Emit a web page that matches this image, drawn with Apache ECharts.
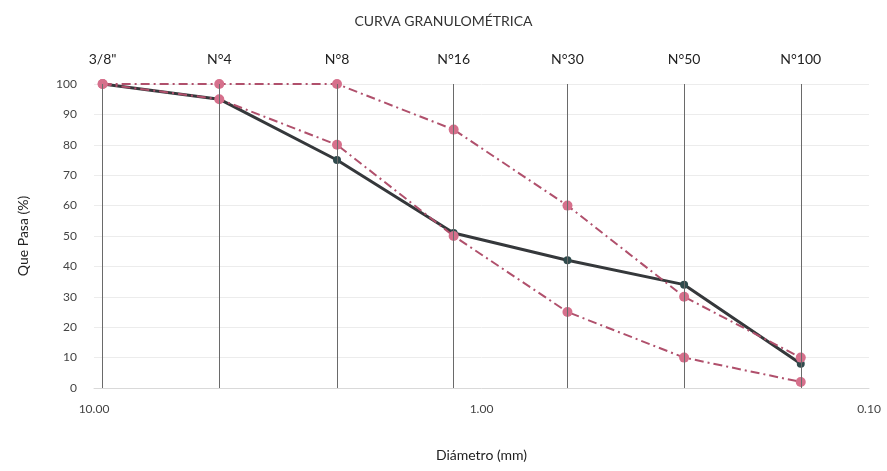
<!DOCTYPE html>
<html>
<head>
<meta charset="utf-8">
<script src="https://cdn.jsdelivr.net/npm/echarts@6/dist/echarts.min.js"></script>
<style>html,body{margin:0;padding:0;background:#fff}#c{width:887px;height:471px}</style>
</head>
<body>
<div id="c"></div>
<script>
const sieveNames = ['3/8"', 'N°4', 'N°8', 'N°16', 'N°30', 'N°50', 'N°100'];
const sieveSizes = [9.5, 4.75, 2.36, 1.18, 0.6, 0.3, 0.15];
const samplePass = [100, 95, 75, 51, 42, 34, 8];
const upperLimit = [100, 100, 100, 85, 60, 30, 10];
const lowerLimit = [100, 95, 80, 50, 25, 10, 2];

const pts = arr => sieveSizes.map((s, i) => [s, arr[i]]);
const FONT = 'Lato';
const chart = echarts.init(document.getElementById('c'));
const limitStyle = {
  type: 'line',
  symbol: 'circle',
  symbolSize: 10,
  itemStyle: { color: '#d6708c' },
  lineStyle: { color: '#b0506c', width: 2, type: [9, 4, 2, 4] },
  z: 4
};
chart.setOption({
  animation: false,
  textStyle: { fontFamily: FONT },
  title: {
    text: 'CURVA GRANULOMÉTRICA', left: 'center', top: 9,
    textStyle: { fontFamily: FONT, fontSize: 14, fontWeight: 'normal', color: '#333' }
  },
  grid: { left: 94, right: 18, top: 84, bottom: 83 },
  xAxis: {
    type: 'log', logBase: 10, min: 0.1, max: 10, inverse: true,
    name: 'Diámetro (mm)', nameLocation: 'middle', nameGap: 60,
    nameTextStyle: { fontFamily: FONT, fontSize: 14, color: '#222' },
    axisLine: { show: true, lineStyle: { color: '#d9d9d9' } },
    axisTick: { show: false },
    splitLine: { show: false },
    axisLabel: {
      formatter: v => Number(v).toFixed(2), margin: 15,
      fontFamily: FONT, fontSize: 12, color: '#444'
    }
  },
  yAxis: {
    type: 'value', min: 0, max: 100, interval: 10,
    name: 'Que Pasa (%)', nameLocation: 'middle', nameGap: 64, nameRotate: 90,
    nameTextStyle: { fontFamily: FONT, fontSize: 14, color: '#222' },
    axisLine: { show: false }, axisTick: { show: false },
    splitLine: { lineStyle: { color: '#ececec' } },
    axisLabel: { margin: 17, fontFamily: FONT, fontSize: 12, color: '#444' }
  },
  series: [
    {
      name: 'Muestra', type: 'line', data: pts(samplePass),
      symbol: 'circle', symbolSize: 8,
      itemStyle: { color: '#2f4a4c' },
      lineStyle: { color: '#35383b', width: 3 },
      z: 3,
      markLine: {
        silent: true, symbol: 'none',
        lineStyle: { color: '#6a6a6a', width: 1, type: 'solid' },
        label: {
          position: 'end', distance: 18, formatter: p => p.name,
          fontFamily: FONT, fontSize: 14, color: '#222'
        },
        data: sieveSizes.map((s, i) => ({ name: sieveNames[i], xAxis: s }))
      }
    },
    Object.assign({ name: 'Límite superior', data: pts(upperLimit) }, limitStyle),
    Object.assign({ name: 'Límite inferior', data: pts(lowerLimit) }, limitStyle)
  ]
});
</script>
</body>
</html>
